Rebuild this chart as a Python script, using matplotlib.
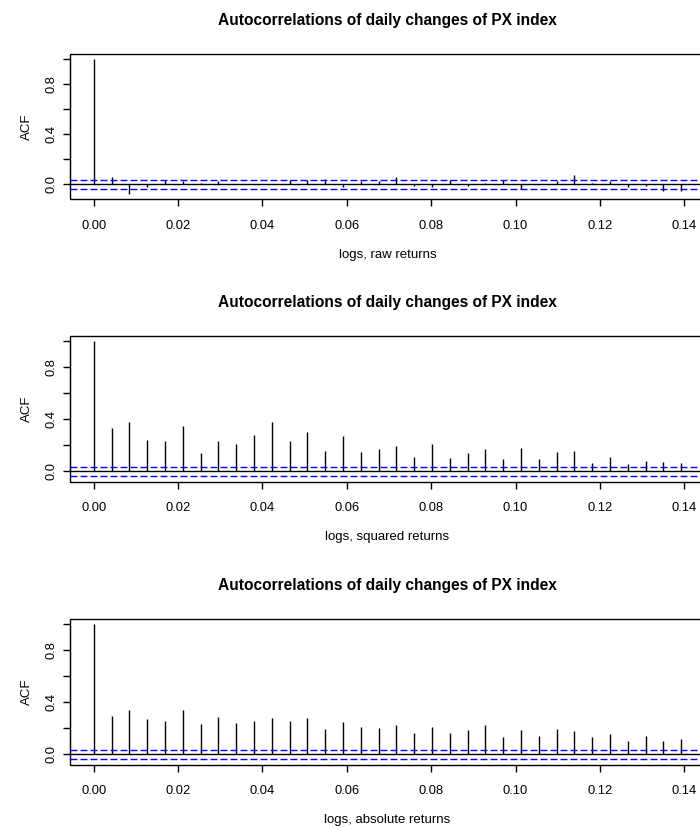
import matplotlib
matplotlib.use("Agg")
import matplotlib.pyplot as plt
import numpy as np

plt.rcParams["font.family"] = ["Liberation Sans", "DejaVu Sans"]

TITLE = "Autocorrelations of daily changes of PX index"
LAG_STEP = 0.00422  # lag unit on the x axis
N_LAGS = 34
CI = 0.037

acf_raw = [
    1.0, 0.057, -0.078, -0.024, 0.035, 0.024, 0.013, 0.027, 0.005, 0.002,
    0.002, 0.032, 0.032, 0.038, -0.022, 0.027, 0.027, 0.057, -0.013, -0.022,
    0.035, -0.013, 0.013, 0.032, -0.035, 0.002, 0.022, 0.070, 0.013, 0.027,
    -0.022, -0.013, -0.054, -0.054,
]
acf_sq = [
    1.0, 0.335, 0.382, 0.244, 0.234, 0.353, 0.140, 0.234, 0.208, 0.280,
    0.382, 0.234, 0.300, 0.160, 0.270, 0.150, 0.171, 0.197, 0.114, 0.208,
    0.106, 0.140, 0.171, 0.096, 0.179, 0.099, 0.150, 0.160, 0.068, 0.114,
    0.060, 0.078, 0.070, 0.068,
]
acf_abs = [
    1.0, 0.296, 0.343, 0.270, 0.260, 0.343, 0.231, 0.288, 0.242, 0.260,
    0.280, 0.260, 0.280, 0.197, 0.252, 0.213, 0.203, 0.223, 0.166, 0.213,
    0.166, 0.187, 0.223, 0.130, 0.187, 0.140, 0.197, 0.177, 0.130, 0.158,
    0.104, 0.140, 0.104, 0.122,
]
panels = [
    (acf_raw, "logs, raw returns"),
    (acf_sq, "logs, squared returns"),
    (acf_abs, "logs, absolute returns"),
]

lags = np.arange(N_LAGS) * LAG_STEP

fig = plt.figure(figsize=(7.0, 8.27), dpi=100)
W, H = 700.0, 827.0
box_left, box_right = 70.3, 704.6
box_tops = [53.7, 336.0, 619.0]
box_h = 145.6

for (acf, xlab), top in zip(panels, box_tops):
    ax = fig.add_axes([box_left / W, 1 - (top + box_h) / H,
                       (box_right - box_left) / W, box_h / H])
    acf = np.asarray(acf)
    ax.vlines(lags, 0, acf, color="black", lw=1.0)
    ax.axhline(0, color="black", lw=1.0)
    for c in (CI, -CI):
        ax.axhline(c, color="#0000ff", lw=1.0, linestyle=(0, (5, 2.2)))

    xr = lags[-1] - lags[0]
    ax.set_xlim(lags[0] - 0.04 * xr, lags[-1] + 0.04 * xr)
    lo, hi = min(acf.min(), -CI), max(acf.max(), CI)
    yr = hi - lo
    ax.set_ylim(lo - 0.04 * yr, hi + 0.04 * yr)

    ax.set_xticks(np.arange(0, 0.141, 0.02))
    ax.set_xticklabels([f"{v:.2f}" for v in np.arange(0, 0.141, 0.02)])
    yt = np.arange(0, 1.01, 0.2)
    ax.set_yticks(yt)
    ax.set_yticklabels([f"{v:.1f}" if i % 2 == 0 else "" for i, v in enumerate(yt)],
                       rotation=90, va="center")
    ax.tick_params(axis="x", direction="out", length=5, width=1, pad=10, labelsize=9.3)
    ax.tick_params(axis="y", direction="out", length=5, width=1, pad=4.5, labelsize=9.3)

    ax.spines["right"].set_visible(False)
    ax.spines["left"].set_bounds(0, 1)
    ax.spines["bottom"].set_visible(False)
    ax.spines["top"].set_visible(False)
    # full box like R: draw rectangle around plot region
    ax.add_patch(plt.Rectangle((0, 0), 1, 1, transform=ax.transAxes, fill=False,
                               lw=1.0, color="black", clip_on=False))

    ax.set_title(TITLE, fontsize=11.2, fontweight="bold", pad=21)
    ax.set_xlabel(xlab, fontsize=9.5, labelpad=12)
    ax.set_ylabel("ACF", fontsize=9.5, labelpad=9)

fig.savefig("out.png", dpi=100)
